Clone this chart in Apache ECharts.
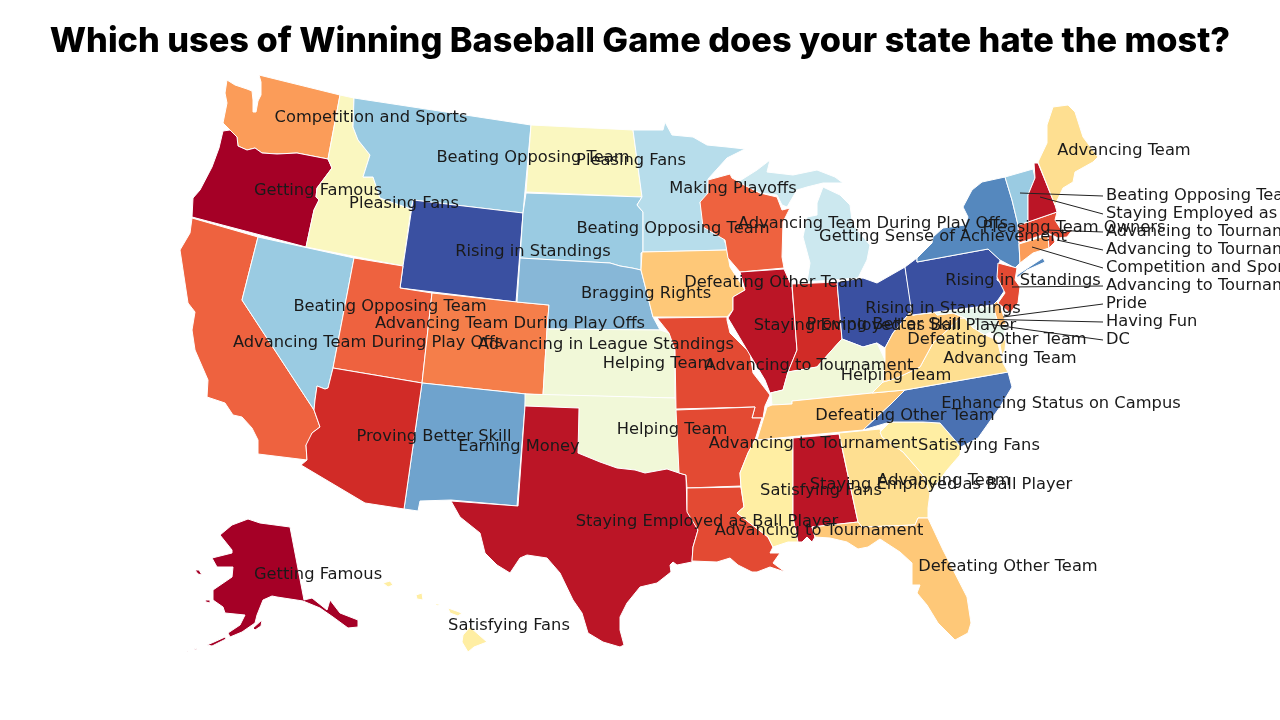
<!DOCTYPE html>
<html>
<head>
<meta charset="utf-8">
<title>Winning Baseball Game</title>
<script src="https://cdn.jsdelivr.net/npm/echarts@6/dist/echarts.min.js"></script>
<style>html,body{margin:0;background:#fff}#main{width:1280px;height:720px}</style>
</head>
<body>
<div id="main"></div>
<script>
// colour groups, one index per state below
var groupColors = ['#a50026','#bb1526','#d12b27','#e34a33','#ee623f','#f57e4a','#fb9c59','#fdba6c','#fec878','#fedf91','#ffeea3','#faf7c0','#f1f8d8','#e6f5ea','#cce8ef','#b7ddeb','#9acbe2','#87b7d7','#6fa3cd','#5588be','#4a71b2','#3a50a1'];
var stateNames = ['WA','OR','CA','NV','ID','MT','WY','UT','CO','NM','AZ','ND','SD','NE','KS','OK','TX','MN','IA','MO','AR','LA','WI','IL','IN','OH','KY','TN','MS','AL','GA','FL','SC','NC','VA','WV','MD','DC','DE','PA','NY','NJ','CT','RI','MA','VT','NH','ME','MI','AK','HI'];
var stateGroups = [6,0,4,16,11,16,21,4,5,18,2,11,16,17,12,12,1,15,8,3,3,3,4,1,2,21,12,8,10,1,9,8,10,20,9,8,13,13,7,21,19,3,6,3,3,16,1,9,14,0,10];

// outlines, in picture pixels
var stateShapes = {
WA:[[[227,80],[235,85],[247,89],[252,91],[253,100],[253,112],[256,112],[258,101],[261,95],[261,82],[259,75],[340,95],[328,159],[297,153],[277,154],[262,153],[255,148],[247,150],[238,146],[237,137],[230,130],[223,123],[227,103],[225,93]]],
OR:[[[223,131],[230,130],[237,137],[238,146],[247,150],[255,148],[262,153],[277,154],[297,153],[328,159],[332,168],[323,180],[317,188],[316,197],[319,200],[314,210],[306,247],[192,217],[193,198],[200,190],[212,167],[219,148]]],
CA:[[[192,218],[258,237],[242,300],[314,410],[320,427],[312,433],[311,440],[306,445],[307,460],[258,454],[258,440],[252,428],[242,417],[233,415],[225,403],[207,397],[208,380],[195,350],[192,330],[195,312],[188,303],[180,250],[190,233]]],
NV:[[[258,237],[354,258],[333,368],[328,388],[325,389],[317,386],[315,400],[314,410],[242,300]]],
ID:[[[340,95],[354,98],[353,127],[358,140],[370,155],[363,177],[373,177],[380,198],[411,209],[403,266],[306,247],[314,210],[319,200],[316,197],[317,188],[323,180],[332,168],[328,159]]],
MT:[[[354,98],[531,125],[523,213],[413,200],[411,209],[380,198],[373,177],[363,177],[370,155],[358,140],[353,127]]],
WY:[[[413,200],[523,213],[516,302],[400,288],[403,266]]],
UT:[[[354,258],[403,266],[400,288],[432,293],[422,383],[333,368]]],
CO:[[[432,293],[517,302],[549,305],[547,330],[543,395],[526,394],[422,383]]],
NM:[[[422,383],[526,394],[517,506],[451,500],[420,501],[418,511],[404,509]]],
AZ:[[[333,368],[422,383],[404,509],[365,503],[301,465],[307,460],[306,445],[312,433],[320,427],[314,410],[315,400],[317,386],[325,389],[328,388]]],
ND:[[[531,125],[633,130],[642,197],[526,192]]],
SD:[[[526,193],[642,197],[637,205],[643,212],[643,252],[641,253],[641,270],[632,268],[620,266],[610,263],[520,258],[523,213]]],
NE:[[[520,258],[610,263],[620,266],[632,268],[641,270],[653,317],[660,330],[547,329],[549,305],[517,302]]],
KS:[[[547,329],[660,330],[669,333],[675,350],[675,398],[543,395]]],
OK:[[[525,394],[675,398],[677,410],[679,473],[667,469],[645,473],[635,470],[617,468],[600,462],[578,453],[579,408],[525,406]]],
TX:[[[525,406],[579,408],[578,453],[600,462],[617,468],[635,470],[645,473],[667,469],[679,473],[686,475],[687,510],[697,528],[698,530],[693,547],[692,562],[677,565],[673,562],[670,565],[671,572],[657,583],[640,587],[627,603],[620,617],[620,630],[624,645],[620,647],[603,642],[588,633],[582,613],[573,600],[560,573],[547,558],[527,555],[520,558],[510,573],[497,565],[485,553],[480,533],[460,517],[451,501],[518,506]]],
MN:[[[633,130],[663,130],[665,122],[672,135],[693,137],[707,145],[727,147],[745,149],[727,158],[708,179],[708,197],[700,202],[703,220],[723,237],[728,250],[643,252],[643,212],[637,205],[642,197]]],
IA:[[[642,252],[727,250],[730,267],[745,290],[733,297],[733,310],[727,317],[653,317],[641,270]]],
MO:[[[657,318],[727,317],[727,320],[730,333],[750,353],[753,373],[770,395],[765,406],[763,418],[752,418],[755,407],[676,409],[675,350],[669,333]]],
AR:[[[676,410],[755,407],[752,418],[762,418],[755,440],[748,453],[740,473],[741,486],[687,488],[686,475],[679,473]]],
LA:[[[687,488],[741,487],[744,507],[737,513],[768,537],[773,547],[770,553],[780,553],[773,563],[785,572],[770,567],[757,572],[752,572],[738,565],[730,558],[717,562],[692,561],[693,547],[698,530],[687,512]]],
WI:[[[708,180],[730,174],[732,178],[760,193],[777,197],[782,210],[790,208],[783,222],[782,257],[784,268],[740,272],[728,258],[725,240],[703,227],[700,202],[708,193]]],
IL:[[[740,272],[784,269],[792,287],[797,350],[788,372],[783,390],[770,393],[765,380],[750,355],[728,318],[733,310],[733,297],[745,290]]],
IN:[[[792,284],[837,282],[842,339],[832,350],[817,367],[788,372],[797,350]]],
OH:[[[837,282],[863,278],[877,283],[905,267],[912,310],[893,333],[885,348],[877,343],[863,347],[842,339]]],
KY:[[[788,372],[817,367],[832,350],[842,339],[863,347],[877,343],[885,360],[883,382],[872,393],[792,401],[792,404],[772,405],[771,393],[783,390]]],
TN:[[[767,407],[772,405],[792,404],[792,401],[872,393],[905,390],[890,405],[863,430],[757,440]]],
MS:[[[755,440],[793,438],[793,517],[800,542],[788,542],[773,547],[768,537],[737,513],[744,507],[741,487],[740,473],[748,453]]],
AL:[[[793,438],[839,434],[858,522],[812,527],[815,537],[812,542],[807,537],[802,542],[798,542],[793,517]]],
GA:[[[839,433],[880,429],[882,437],[903,452],[923,475],[930,493],[928,508],[928,518],[918,518],[915,525],[862,527],[858,522]]],
FL:[[[812,527],[858,522],[862,527],[915,525],[918,518],[928,518],[943,550],[967,597],[971,623],[968,633],[955,640],[938,623],[927,605],[917,593],[920,585],[912,585],[912,563],[900,552],[880,539],[868,547],[858,549],[847,542],[830,538],[815,537]]],
SC:[[[880,432],[890,422],[923,422],[940,423],[961,447],[960,455],[947,470],[930,493],[923,475],[903,452],[882,437]]],
NC:[[[905,390],[1008,372],[1012,387],[1000,407],[978,438],[961,447],[940,423],[923,422],[890,422],[863,430],[890,405]]],
VA:[[[872,393],[883,382],[897,378],[920,367],[933,343],[942,335],[960,318],[965,318],[972,327],[985,335],[997,340],[1003,363],[1008,372],[905,390]],[[1000,345],[1006,338],[1005,350],[1002,355]]],
WV:[[[912,310],[913,315],[933,310],[937,315],[953,313],[965,318],[960,318],[942,335],[933,343],[920,367],[897,378],[883,382],[885,360],[885,348],[893,333]]],
MD:[[[913,315],[993,306],[999,326],[1006,324],[1004,335],[1000,338],[990,332],[985,335],[972,327],[965,318],[953,313],[937,315],[933,310]]],
DC:[[[972,326],[975,324],[977,327],[974,329]]],
DE:[[[996,300],[993,306],[999,326],[1006,324],[1001,308]]],
PA:[[[905,267],[917,258],[917,262],[988,249],[1000,260],[998,272],[997,280],[1007,287],[998,300],[993,305],[912,315]]],
NY:[[[917,262],[917,258],[932,243],[933,237],[943,228],[965,225],[968,217],[963,207],[972,190],[982,182],[1005,177],[1012,200],[1018,225],[1019,244],[1020,263],[1015,268],[1000,260],[988,249]],[[1017,275],[1043,258],[1045,262],[1027,270],[1017,278]]],
NJ:[[[998,263],[1017,268],[1015,280],[1020,287],[1018,303],[1010,313],[998,303],[1005,293],[997,277]]],
CT:[[[1019,244],[1048,235],[1049,248],[1033,253],[1020,263]]],
RI:[[[1048,235],[1053,235],[1055,242],[1049,248]]],
MA:[[[1018,225],[1028,222],[1057,212],[1055,220],[1060,228],[1063,232],[1073,229],[1067,237],[1058,238],[1052,235],[1048,233],[1019,243]]],
VT:[[[1005,177],[1033,169],[1035,178],[1028,195],[1028,222],[1018,225],[1012,200]]],
NH:[[[1034,163],[1038,163],[1055,205],[1057,212],[1028,222],[1028,195],[1035,178]]],
ME:[[[1038,162],[1047,143],[1047,125],[1053,107],[1068,105],[1075,112],[1083,137],[1098,157],[1093,162],[1075,172],[1073,182],[1063,188],[1055,205]]],
MI:[[[823,187],[840,195],[850,205],[852,220],[857,230],[870,245],[867,260],[858,278],[807,282],[810,263],[803,237],[807,217],[817,215],[817,203]],[[738,182],[757,170],[770,160],[767,172],[793,175],[817,170],[835,177],[843,183],[823,183],[807,187],[797,190],[787,207],[782,205],[777,195],[760,193]]],
AK:[[[248,519],[260,523],[290,527],[304,600],[312,598],[327,610],[330,600],[340,613],[358,620],[358,627],[348,628],[333,617],[320,608],[303,601],[277,597],[272,596],[263,600],[257,615],[255,623],[242,632],[230,637],[228,633],[240,625],[245,615],[225,613],[223,607],[213,600],[213,590],[232,577],[233,567],[217,567],[212,558],[232,553],[232,550],[220,535],[232,525]],[[253,628],[262,620],[261,626],[255,630]],[[195,570],[199,570],[202,575],[198,574]],[[205,600],[210,600],[210,603],[206,602]],[[207,645],[214,642],[225,637],[226,639],[212,646]],[[187,652],[190,651],[188,653]],[[194,649],[197,648],[196,650]]],
HI:[[[463,635],[470,627],[487,642],[474,647],[468,652],[462,642]],[[448,608],[462,613],[458,616],[450,613]],[[416,595],[422,593],[423,600],[417,599]],[[383,583],[390,581],[393,585],[388,587]],[[435,604],[440,604],[437,606]]]
};

var labelTexts = ['Competition and Sports','Getting Famous','Pleasing Fans','Beating Opposing Team','Pleasing Fans','Making Playoffs','Beating Opposing Team','Rising in Standings','Bragging Rights','Defeating Other Team','Advancing Team During Play Offs','Getting Sense of Achievement','Pleasing Team Owners','Advancing Team','Rising in Standings','Rising in Standings','Beating Opposing Team','Advancing Team During Play Offs','Advancing Team During Play Offs','Advancing in League Standings','Helping Team','Advancing to Tournament','Staying Employed as Ball Player','Proving Better Skill','Defeating Other Team','Advancing Team','Helping Team','Enhancing Status on Campus','Defeating Other Team','Proving Better Skill','Earning Money','Helping Team','Advancing to Tournament','Satisfying Fans','Advancing Team','Staying Employed as Ball Player','Satisfying Fans','Staying Employed as Ball Player','Advancing to Tournament','Defeating Other Team','Getting Famous','Satisfying Fans'];
var labelX = [371,318,404,533,631,733,673,533,646,774,873,943,1074,1124,1023,943,390,510,368,606,658,809,885,884,997,1010,896,1061,905,434,519,672,813,979,944,941,821,707,819,1008,318,509];
var labelY = [118,191,204,158,161,189,229,252,294,283,224,237,228,151,281,309,307,324,343,345,364,366,326,325,340,359,376,404,416,437,447,430,444,446,481,485,491,522,531,567,575,626];

var calloutTexts = ['Beating Opposing Team','Staying Employed as Ball Player','Advancing to Tournament','Advancing to Tournament','Competition and Sports','Advancing to Tournament','Pride','Having Fun','DC'];
var calloutY = [196,214,232,250,268,286,304,322,340];
var calloutFromX = [1020,1040,1047,1057,1032,1012,1003,975,987];
var calloutFromY = [193,197,230,240,247,287,317,319,324];
var calloutX = 1103;

var features = stateNames.map(function(name){
	return {type:'Feature',properties:{name:name},geometry:{type:'Polygon',coordinates:stateShapes[name]}};
});
// several parts means several outer rings
features.forEach(function(f){
	if (f.geometry.coordinates.length > 1){
		f.geometry = {type:'MultiPolygon',coordinates:f.geometry.coordinates.map(function(r){return [r];})};
	}
});
echarts.registerMap('states',{type:'FeatureCollection',features:features});

var chart = echarts.init(document.getElementById('main'));
chart.setOption({
	animation:false,
	backgroundColor:'#fff',
	title:{
		text:'Which uses of Winning Baseball Game does your state hate the most?',
		left:'center',
		top:20,
		textStyle:{fontFamily:'Inter',fontWeight:800,fontSize:34.3,color:'#000'}
	},
	visualMap:{
		show:false,
		seriesIndex:0,
		pieces:groupColors.map(function(c,i){return {value:i,color:c};})
	},
	geo:{
		map:'states',
		projection:{project:function(p){return p;},unproject:function(p){return p;}},
		boundingCoords:[[0,0],[1280,720]],
		left:0,top:0,width:1280,height:720,
		silent:true,
		label:{show:false},
		itemStyle:{borderColor:'#fff',borderWidth:1,areaColor:'#ccc'}
	},
	series:[
		{
			type:'map',
			geoIndex:0,
			silent:true,
			data:stateNames.map(function(n,i){return {name:n,value:stateGroups[i]};})
		},
		{
			type:'lines',
			coordinateSystem:'geo',
			silent:true,
			symbol:'none',
			lineStyle:{color:'#222',width:1,opacity:1},
			data:calloutTexts.map(function(t,i){
				return {coords:[[calloutFromX[i],calloutFromY[i]],[calloutX,calloutY[i]]]};
			}),
			z:3
		},
		{
			type:'scatter',
			coordinateSystem:'geo',
			silent:true,
			symbolSize:1,
			itemStyle:{color:'transparent',opacity:1},
			label:{show:true,position:'inside',align:'center',verticalAlign:'middle',fontFamily:'DejaVu Sans',fontSize:16.3,color:'#1a1a1a',formatter:function(p){return p.name;}},
			data:labelTexts.map(function(t,i){return {name:t,value:[labelX[i],labelY[i]]};}),
			z:4
		},
		{
			type:'scatter',
			coordinateSystem:'geo',
			silent:true,
			symbolSize:1,
			itemStyle:{color:'transparent',opacity:1},
			label:{show:true,position:'inside',align:'left',verticalAlign:'middle',fontFamily:'DejaVu Sans',fontSize:16.3,color:'#1a1a1a',formatter:function(p){return p.name;}},
			data:calloutTexts.map(function(t,i){return {name:t,value:[calloutX+3,calloutY[i]]};}),
			z:4
		}
	]
});
</script>
</body>
</html>
